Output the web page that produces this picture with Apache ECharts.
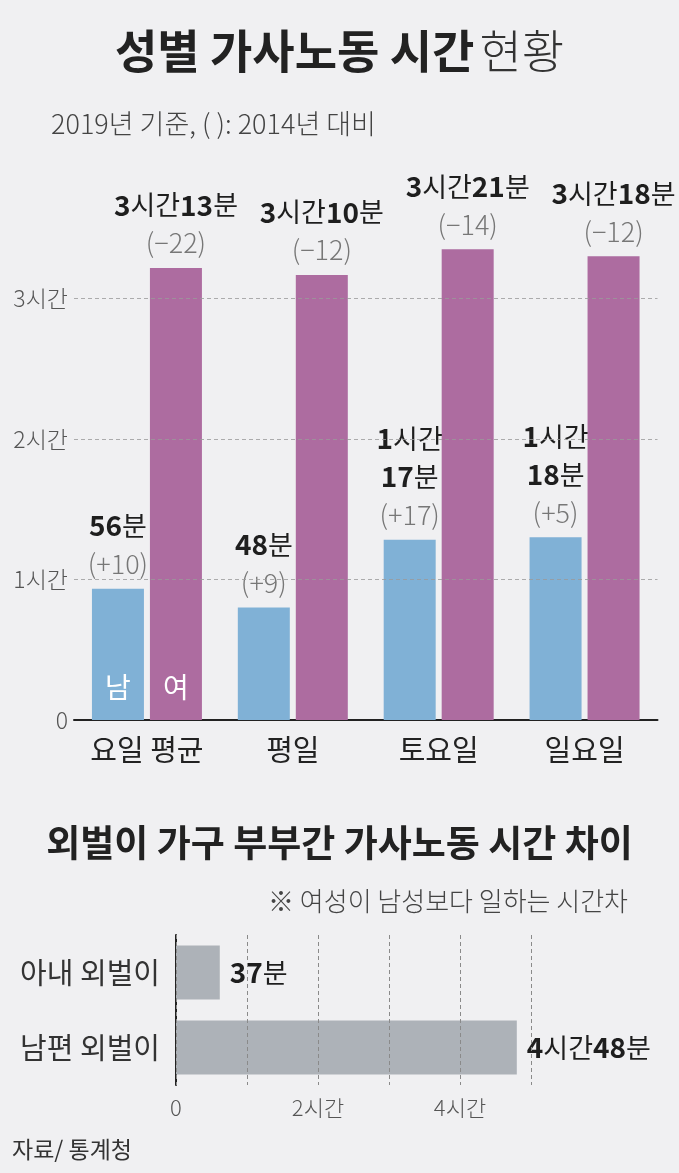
<!DOCTYPE html>
<html><head><meta charset="utf-8">
<script src="https://cdn.jsdelivr.net/npm/echarts@6/dist/echarts.min.js"></script>
<style>html,body{margin:0;padding:0;background:#f0f0f2;}#c{width:679px;height:1173px;}</style>
</head><body><div id="c"></div>
<script>
// ---- data ----
const categories = ['요일 평균', '평일', '토요일', '일요일'];
const menMinutes = [56, 48, 77, 78];
const womenMinutes = [193, 190, 201, 198];
const menChange = [10, 9, 17, 5];
const womenChange = [-22, -12, -14, -12];
const yTickLabels = ['0', '1시간', '2시간', '3시간'];
const genderTags = ['남', '여'];
const gapCategories = ['아내 외벌이', '남편 외벌이'];
const gapMinutes = [37, 288];
const xTickLabels = ['0', '', '2시간', '', '4시간', ''];

const F = '"Noto Sans CJK KR", "Noto Sans", sans-serif';
const BLUE = '#80b1d6', PURPLE = '#ad6ca0', GRAY = '#adb2b8';

function timeRich(min, split) {
  const h = Math.floor(min / 60), m = min % 60;
  if (h === 0) return '{n|' + m + '}{u|분}';
  return '{n|' + h + '}{u|시간}' + (split ? '\n' : '') + '{n|' + m + '}{u|분}';
}
function chgRich(v) { return '{c|(' + (v < 0 ? '−' : '+') + Math.abs(v) + ')}'; }

const rich = {
  n: { fontFamily: F, fontSize: 28, fontWeight: 'bold', color: '#1e1e1e', lineHeight: 38 },
  u: { fontFamily: F, fontSize: 27, fontWeight: 'normal', color: '#1e1e1e', lineHeight: 38 },
  c: { fontFamily: F, fontSize: 27, fontWeight: 300, color: '#777', lineHeight: 38 }
};

const zeros = categories.map(() => 0);

const chart = echarts.init(document.getElementById('c'), null, { renderer: 'canvas' });
chart.setOption({
  backgroundColor: '#f0f0f2',
  animation: false,
  title: [
    { text: '{b|성별 가사노동 시간} {l|현황}', left: 'center', top: 28, padding: 0,
      textStyle: { rich: {
        b: { fontFamily: F, fontSize: 46, fontWeight: 'bold', color: '#222', lineHeight: 46 },
        l: { fontFamily: F, fontSize: 46, fontWeight: 300, color: '#333', lineHeight: 46 } } } },
    { text: '2019년 기준, ( ): 2014년 대비', left: 51, top: 109, padding: 0,
      textStyle: { fontFamily: F, fontSize: 27, fontWeight: 300, color: '#444', lineHeight: 29 } },
    { text: '외벌이 가구 부부간 가사노동 시간 차이', left: 'center', top: 823, padding: 0,
      textStyle: { fontFamily: F, fontSize: 37, fontWeight: 'bold', color: '#222', lineHeight: 40 } },
    { text: '※ 여성이 남성보다 일하는 시간차', right: 51, top: 887, padding: 0,
      textStyle: { fontFamily: F, fontSize: 26, fontWeight: 300, color: '#444', lineHeight: 28 } },
    { text: '자료/ 통계청', left: 12, top: 1137, padding: 0,
      textStyle: { fontFamily: F, fontSize: 23, fontWeight: 'normal', color: '#333', lineHeight: 24 } }
  ],
  grid: [
    { left: 74, right: 21.5, top: 204.8, bottom: 453 },
    { left: 176, right: 148, top: 935, bottom: 88 }
  ],
  xAxis: [
    { gridIndex: 0, type: 'category', data: categories,
      axisLine: { lineStyle: { color: '#222', width: 2 } }, axisTick: { show: false },
      axisLabel: { interval: 0, fontFamily: F, fontSize: 29, color: '#222', margin: 15 } },
    { gridIndex: 1, type: 'value', min: 0, max: 300, interval: 60, z: 5,
      axisLine: { show: false }, axisTick: { show: false },
      splitLine: { show: true, lineStyle: { color: '#8a8a8a', type: [4, 3], width: 1 } },
      axisLabel: { fontFamily: F, fontSize: 22, fontWeight: 300, color: '#555', margin: 12,
        formatter: v => xTickLabels[Math.round(v / 60)] || '' } }
  ],
  yAxis: [
    { gridIndex: 0, type: 'value', min: 0, max: 220, interval: 60, z: 5,
      axisLine: { show: false }, axisTick: { show: false },
      splitLine: { show: true, showMinLine: false, showMaxLine: false,
        lineStyle: { color: '#9a9a9a', type: [4, 3], width: 1, opacity: 0.8 } },
      axisLabel: { fontFamily: F, fontSize: 23, fontWeight: 300, color: '#555', margin: 6,
        showMaxLabel: false, formatter: v => yTickLabels[Math.round(v / 60)] || '' } },
    { gridIndex: 1, type: 'category', data: gapCategories, inverse: true,
      axisLine: { lineStyle: { color: '#222', width: 2 } }, axisTick: { show: false },
      axisLabel: { interval: 0, fontFamily: F, fontSize: 29, color: '#333', margin: 16 } }
  ],
  series: [
    { name: '남', type: 'bar', xAxisIndex: 0, yAxisIndex: 0, stack: 'm', barWidth: 52, barGap: '11.5%',
      itemStyle: { color: BLUE },
      data: menMinutes.map((v, i) => i === 0 ? { value: v, label: { show: true, position: 'insideBottom', distance: 19,
        formatter: genderTags[0], fontFamily: F, fontSize: 28, color: '#fff' } } : v) },
    { name: '여', type: 'bar', xAxisIndex: 0, yAxisIndex: 0, stack: 'w', barWidth: 52, barGap: '11.5%',
      itemStyle: { color: PURPLE },
      data: womenMinutes.map((v, i) => i === 0 ? { value: v, label: { show: true, position: 'insideBottom', distance: 19,
        formatter: genderTags[1], fontFamily: F, fontSize: 28, color: '#fff' } } : v) },
    { name: 'mLabel', type: 'bar', xAxisIndex: 0, yAxisIndex: 0, stack: 'm', barWidth: 52, barGap: '11.5%',
      itemStyle: { color: 'transparent' }, data: zeros,
      label: { show: true, position: 'top', distance: 6, rich: rich,
        formatter: p => timeRich(menMinutes[p.dataIndex], true) + '\n' + chgRich(menChange[p.dataIndex]) } },
    { name: 'wLabel', type: 'bar', xAxisIndex: 0, yAxisIndex: 0, stack: 'w', barWidth: 52, barGap: '11.5%',
      itemStyle: { color: 'transparent' }, data: zeros,
      label: { show: true, position: 'top', distance: 6, rich: rich,
        formatter: p => timeRich(womenMinutes[p.dataIndex], false) + '\n' + chgRich(womenChange[p.dataIndex]) } },
    { name: 'gap', type: 'bar', xAxisIndex: 1, yAxisIndex: 1, barWidth: 54,
      itemStyle: { color: GRAY }, data: gapMinutes,
      label: { show: true, position: 'right', distance: 10, rich: rich,
        formatter: p => timeRich(p.value, false) } }
  ]
});
</script></body></html>
